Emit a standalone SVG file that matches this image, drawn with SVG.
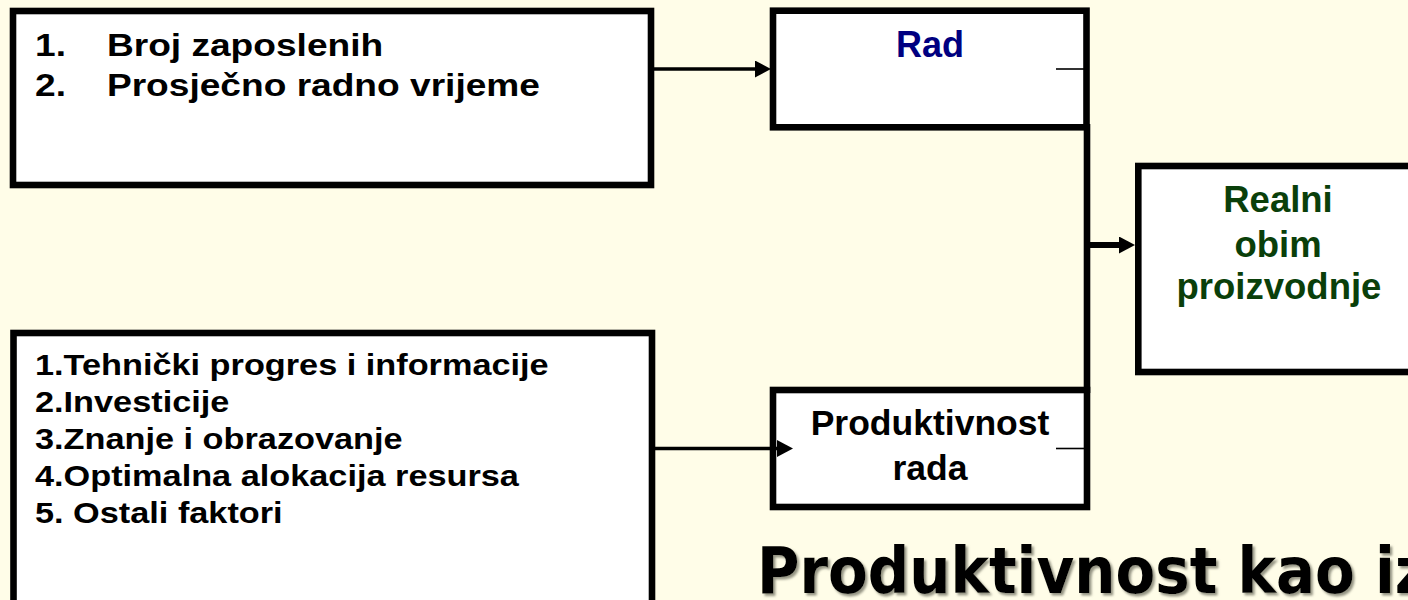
<svg xmlns="http://www.w3.org/2000/svg" width="1408" height="600" viewBox="0 0 1408 600">
<style>
.box{fill:#ffffff;stroke:#000000;stroke-width:6.6}
.t{font-family:"Liberation Sans",Arial,sans-serif;font-weight:bold;fill:#000000}
.c{text-anchor:middle}
.conn{stroke:#000000;fill:none}
.tick{stroke:#000000;stroke-width:1.6}
</style>
<defs>
<marker id="ah" markerUnits="userSpaceOnUse" markerWidth="16" markerHeight="17" viewBox="0 0 16 17" refX="3" refY="8.5" orient="auto">
<path d="M0,0 L16,8.5 L0,17 z" fill="#000000"/>
</marker>
<filter id="sh" x="-5%" y="-20%" width="110%" height="140%">
<feDropShadow dx="2.5" dy="2.5" stdDeviation="1.2" flood-color="#7a7a6a" flood-opacity="0.8"/>
</filter>
</defs>
<rect x="0" y="0" width="1408" height="600" fill="#FFFDE8"/>

<g id="node-faktori-rada">
<rect class="box" x="13" y="11" width="638" height="174"/>
<g transform="translate(35,0) scale(1.16,1)">
<text class="t" x="0" y="56" font-size="32">1.</text>
<text class="t" x="62" y="56" font-size="32">Broj zaposlenih</text>
<text class="t" x="0" y="96" font-size="32">2.</text>
<text class="t" x="62" y="96" font-size="32">Prosječno radno vrijeme</text>
</g>
</g>

<g id="node-rad">
<rect class="box" x="773" y="10.7" width="313.5" height="116.6"/>
<text class="t c" x="930" y="57" font-size="36" style="fill:#000080">Rad</text>
<line class="tick" x1="1056" y1="69" x2="1084" y2="69"/>
</g>

<g id="node-faktori-produktivnosti">
<rect class="box" x="13.5" y="333" width="638.5" height="300"/>
<g transform="translate(35,0) scale(1.143,1)">
<text class="t" x="0" y="375" font-size="30">1.Tehnički progres i informacije</text>
<text class="t" x="0" y="412" font-size="30">2.Investicije</text>
<text class="t" x="0" y="449" font-size="30">3.Znanje i obrazovanje</text>
<text class="t" x="0" y="486" font-size="30">4.Optimalna alokacija resursa</text>
<text class="t" x="0" y="523" font-size="30">5. Ostali faktori</text>
</g>
</g>

<g id="node-produktivnost">
<rect class="box" x="773" y="390" width="314" height="117"/>
<text class="t c" x="930" y="435" font-size="35.5">Produktivnost</text>
<text class="t c" x="930" y="480" font-size="35.5">rada</text>
<line class="tick" x1="1056" y1="448.5" x2="1084" y2="448.5"/>
</g>

<g id="node-realni-obim">
<rect class="box" x="1138.3" y="166" width="400" height="206"/>
<text class="t c" x="1278" y="212" font-size="36.5" style="fill:#0a3f0a">Realni</text>
<text class="t c" x="1278" y="256.5" font-size="36.5" style="fill:#0a3f0a">obim</text>
<text class="t c" x="1279" y="298.5" font-size="36.5" style="fill:#0a3f0a">proizvodnje</text>
</g>

<g id="connectors">
<path class="conn" d="M654,69 H758" stroke-width="3.4" marker-end="url(#ah)"/>
<path class="conn" d="M655,448.5 H780" stroke-width="3.6" marker-end="url(#ah)"/>
<path class="conn" d="M1087,124 V393" stroke-width="6.6"/>
<path class="conn" d="M1090,245 H1122" stroke-width="6" marker-end="url(#ah)"/>
</g>

<g id="title">
<text transform="translate(757,593) scale(0.905,1)" x="0" y="0" font-family="'DejaVu Sans',Verdana,sans-serif" font-weight="bold" font-size="64" fill="#000000" filter="url(#sh)">Produktivnost kao iz</text>
</g>
</svg>
